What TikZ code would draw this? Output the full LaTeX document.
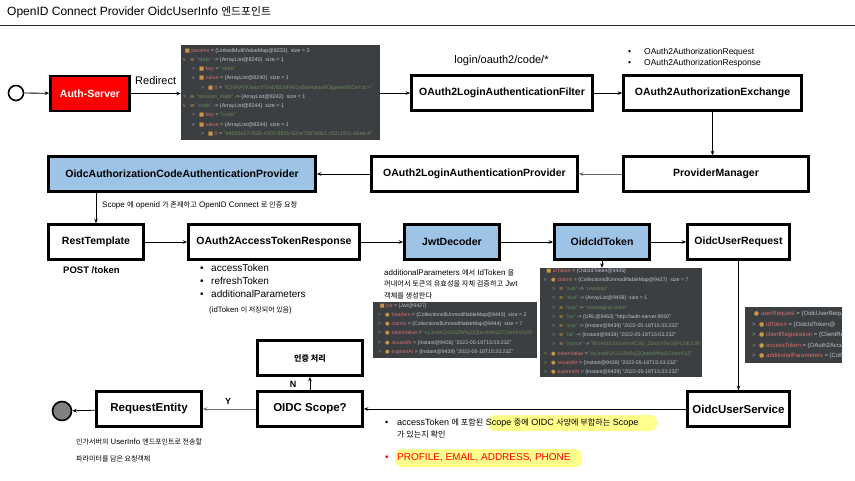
\documentclass[tikz,border=0pt]{standalone}
\usepackage{fontspec}
\setmainfont{Liberation Sans}
\newfontfamily\kr[Scale=0.9]{Noto Sans CJK KR}
\newfontfamily\dsym{DejaVu Sans}
\usetikzlibrary{arrows.meta, positioning, calc}
\definecolor{boxblue}{RGB}{157,195,230}
\definecolor{boxred}{RGB}{255,0,0}
\definecolor{endgray}{RGB}{128,128,128}
\definecolor{dbgbg}{RGB}{60,63,65}
\definecolor{dbgname}{RGB}{214,110,110}
\definecolor{dbgval}{RGB}{190,196,204}
\definecolor{dbgstr}{RGB}{106,135,89}
\definecolor{dbgicon}{RGB}{200,150,70}
\definecolor{dbgchev}{RGB}{150,150,150}
\definecolor{hlyellow}{RGB}{255,255,140}
\newcommand{\hg}[1]{{\kr #1}}
\newcommand{\dnm}[1]{{\color{dbgname}#1}}
\newcommand{\dstr}[1]{{\color{dbgstr}#1}}
\newcommand{\dicon}[1]{{\dsym\color{dbgicon}#1}}
\tikzset{
  block/.style={rectangle, minimum height=35pt, align=center, draw=black, fill=white, font=\bfseries\fontsize{10.5}{12}\selectfont, line width=2.6pt, inner sep=2pt},
  blockB/.style={block, fill=boxblue},
  blockR/.style={block, fill=boxred, text=white},
  blockL/.style={block, font=\bfseries\fontsize{11.5}{13}\selectfont},
  terminal/.style={circle, draw=black, line width=1.6pt, minimum size=15pt, inner sep=0pt},
  panel/.style={rectangle, fill=dbgbg, inner sep=0pt},
  dbgrow/.style={anchor=west, inner sep=0pt, text=dbgval, font=\fontsize{5.4}{6}\selectfont},
  note/.style={anchor=north west, inner sep=0pt, align=left},
  arrow/.style={-{Stealth[length=4.5pt, width=3.6pt]}, line width=0.8pt},
}

\begin{document}
\begin{tikzpicture}[x=1pt, y=-1pt]
\useasboundingbox (0,0) rectangle (855,480);
% title
\node (title) [anchor=west, inner sep=0pt, font=\fontsize{12}{14}\selectfont] at (7,12) {OpenID Connect Provider OidcUserInfo \hg{엔드포인트}};
\draw[line width=0.9pt, black!85] (0,25) -- (855,25);

% highlighter marks
\fill[hlyellow, rounded corners=7pt] (488,415) rectangle (657,431);
\fill[hlyellow, rounded corners=7pt] (395,449) rectangle (582,467);

% blocks
\node (start) [terminal] at (16,93) {};
\node (auth)  [blockR, minimum width=79pt] at (90,93.5) {Auth-Server};
\node (filt)  [block,  minimum width=181pt] at (502,93) {OAuth2LoginAuthenticationFilter};
\node (exch)  [block,  minimum width=178pt] at (712.5,93) {OAuth2AuthorizationExchange};
\node (pm)    [block,  minimum width=185pt] at (716,174) {ProviderManager};
\node (olap)  [block,  minimum width=206pt] at (474.5,174) {OAuth2LoginAuthenticationProvider};
\node (oacap) [blockB, minimum width=267pt] at (182,174) {OidcAuthorizationCodeAuthenticationProvider};
\node (rest)  [block,  minimum width=95pt] at (96,242) {RestTemplate};
\node (oatr)  [block,  minimum width=171pt] at (274,242) {OAuth2AccessTokenResponse};
\node (jwtd)  [blockB, minimum width=95pt] at (452,242) {JwtDecoder};
\node (oidt)  [blockB, minimum width=95pt] at (602,242) {OidcIdToken};
\node (oureq) [block,  minimum width=102pt] at (738.5,242) {OidcUserRequest};
\node (ous)   [blockB, blockL, minimum width=102pt] at (738.5,409) {OidcUserService};
\node (scope) [blockL, minimum width=105pt] at (310,409) {OIDC Scope?};
\node (auth2) [block,  minimum width=105pt, font=\bfseries\fontsize{9}{11}\selectfont] at (310,358) {\hg{인증 처리}};
\node (reqent) [blockL, minimum width=105pt] at (149,409) {RequestEntity};
\node (endc)  [terminal, fill=endgray, minimum size=19pt] at (62,411) {};

% debugger panels
\node (params) [panel, minimum width=199pt, minimum height=95pt] at (280.5,92.5) {};
\node (jwt)    [panel, minimum width=164pt, minimum height=56pt] at (455,330) {};
\node (idtok)  [panel, minimum width=162pt, minimum height=109pt] at (621,322.5) {};
\node (ureq)   [panel, minimum width=97pt, minimum height=56pt] at (793.5,335) {};

\begin{scope}
\clip (params.north west) rectangle (params.south east);
\foreach \ind/\ch/\ic/\nm/\rest [count=\i] in {
  -0.6/{}/■/{\dnm{params}}/{ = \{LinkedMultiValueMap@8231\}\ \ size = 3},
  0/v/≡/{\dstr{"state"}}/{ -> \{ArrayList@8240\}\ \ size = 1},
  1/>/■/{\dnm{key}}/{ = \dstr{"state"}},
  1/v/■/{\dnm{value}}/{ = \{ArrayList@8240\}\ \ size = 1},
  2/>/■/{\dnm{0}}/{ = \dstr{"tGHRAYKIwunYGnDl0U9HW1n6wmqNaROjgeew80CeYzc="}},
  0/>/≡/{\dstr{"session\_state"}}/{ -> \{ArrayList@8242\}\ \ size = 1},
  0/v/≡/{\dstr{"code"}}/{ -> \{ArrayList@8244\}\ \ size = 1},
  1/>/■/{\dnm{key}}/{ = \dstr{"code"}},
  1/v/■/{\dnm{value}}/{ = \{ArrayList@8244\}\ \ size = 1},
  2/>/■/{\dnm{0}}/{ = \dstr{"e4665a17-f526-4303-882b-92ce7287b0b1.c53c197c-b6ae-4"}}}
  \node (pr\i) [dbgrow] at ({183+\ind*9},{51+(\i-1)*9.2})
    {\makebox[7pt][l]{\color{dbgchev}\ch}\makebox[6.5pt][l]{\dicon{\ic}}\nm\rest};
\end{scope}

\begin{scope}
\clip (jwt.north west) rectangle (jwt.south east);
\foreach \ind/\ch/\ic/\nm/\rest [count=\i] in {
  -0.6/{}/■/{\dnm{jwt}}/{ = \{Jwt@9427\}},
  0/>/●/{\dnm{headers}}/{ = \{Collections\$UnmodifiableMap@9443\}\ \ size = 2},
  0/>/●/{\dnm{claims}}/{ = \{Collections\$UnmodifiableMap@9444\}\ \ size = 7},
  0/>/●/{\dnm{tokenValue}}/{ = \dstr{"eyJraWQiOiJiZWNjZjQtandWhpZCIsImFsZyI6"}},
  0/>/●/{\dnm{issuedAt}}/{ = \{Instant@9438\} "2022-05-18T15:03:23Z"},
  0/>/●/{\dnm{expiresAt}}/{ = \{Instant@9439\} "2022-05-18T15:33:23Z"}}
  \node (jr\i) [dbgrow, font=\fontsize{5.2}{6}\selectfont] at ({378+\ind*9},{306+(\i-1)*9.2})
    {\makebox[7pt][l]{\color{dbgchev}\ch}\makebox[6.5pt][l]{\dicon{\ic}}\nm\rest};
\end{scope}

\begin{scope}
\clip (idtok.north west) rectangle (idtok.south east);
\foreach \ind/\ch/\ic/\nm/\rest [count=\i] in {
  -0.6/{}/■/{\dnm{idToken}}/{ = \{OidcIdToken@9435\}},
  0/v/●/{\dnm{claims}}/{ = \{Collections\$UnmodifiableMap@9437\}\ \ size = 7},
  1/>/≡/{\dstr{"sub"}}/{ -> \dstr{"onjsdnjs"}},
  1/>/≡/{\dstr{"aud"}}/{ -> \{ArrayList@9459\}\ \ size = 1},
  1/>/≡/{\dstr{"azp"}}/{ -> \dstr{"messaging-client"}},
  1/>/≡/{\dstr{"iss"}}/{ -> \{URL@9463\} "http://auth-server:9000"},
  1/>/≡/{\dstr{"exp"}}/{ -> \{Instant@9439\} "2022-05-18T15:33:23Z"},
  1/>/≡/{\dstr{"iat"}}/{ -> \{Instant@9438\} "2022-05-18T15:03:23Z"},
  1/>/≡/{\dstr{"nonce"}}/{ -> \dstr{"BGAEt510Gnhro4CXp\_Ztsc0X0yGBFL0lICUR"}},
  0/>/●/{\dnm{tokenValue}}/{ = \dstr{"eyJraWQiOiJiZWNjZjQtandWhpZCIsImFsZ"}},
  0/>/●/{\dnm{issuedAt}}/{ = \{Instant@9438\} "2022-05-18T15:03:23Z"},
  0/>/●/{\dnm{expiresAt}}/{ = \{Instant@9439\} "2022-05-18T15:33:23Z"}}
  \node (ir\i) [dbgrow, font=\fontsize{5.2}{6}\selectfont] at ({544+\ind*8},{271+(\i-1)*9.2})
    {\makebox[7pt][l]{\color{dbgchev}\ch}\makebox[6.5pt][l]{\dicon{\ic}}\nm\rest};
\end{scope}

\begin{scope}
\clip (ureq.north west) rectangle (ureq.south east);
\foreach \ind/\ch/\ic/\nm/\rest [count=\i] in {
  -0.6/{}/●/{\dnm{userRequest}}/{ = \{OidcUserRequest},
  0/>/●/{\dnm{idToken}}/{ = \{OidcIdToken@},
  0/>/●/{\dnm{clientRegistration}}/{ = \{ClientRegistration},
  0/>/●/{\dnm{accessToken}}/{ = \{OAuth2AccessToken},
  0/>/●/{\dnm{additionalParameters}}/{ = \{Collections}}
  \node (ur\i) [dbgrow, font=\fontsize{6}{7}\selectfont] at ({752+\ind*9},{314+(\i-1)*10.5})
    {\makebox[7pt][l]{\color{dbgchev}\ch}\makebox[7pt][l]{\dicon{\ic}}\nm\rest};
\end{scope}

% labels and notes
\node (lblredir) [anchor=west, inner sep=0pt, font=\fontsize{11}{13}\selectfont] at (135,81) {Redirect};
\node (lblcode) [inner sep=0pt, font=\fontsize{11}{13}\selectfont] at (501.5,61) {login/oauth2/code/*};
\node (lblexch) [note, font=\fontsize{8.5}{11}\selectfont] at (628,48) {\makebox[16pt][l]{•}OAuth2AuthorizationRequest\\\makebox[16pt][l]{•}OAuth2AuthorizationResponse};
\node (lbloidc) [anchor=west, inner sep=0pt, font=\fontsize{8}{10}\selectfont] at (102,205) {Scope \hg{에} openid \hg{가 존재하고} OpenID Connect \hg{로 인증 요청}};
\node (lblpost) [anchor=west, inner sep=0pt, font=\bfseries\fontsize{9.5}{11}\selectfont] at (63,270) {POST /token};
\node (lbltok) [note, font=\fontsize{10}{13}\selectfont] at (200,264.5) {\makebox[11pt][l]{•}accessToken\\\makebox[11pt][l]{•}refreshToken\\\makebox[11pt][l]{•}additionalParameters};
\node (lblidt) [anchor=west, inner sep=0pt, font=\fontsize{7.8}{10}\selectfont] at (209,310) {(idToken \hg{이 저장되어 있음})};
\node (lbljwt) [note, font=\fontsize{8}{11.7}\selectfont] at (384,269) {additionalParameters \hg{에서} IdToken \hg{을}\\\hg{꺼내어서 토큰의 유효성을 자체 검증하고} Jwt\\\hg{객체를 생성한다}};
\node (lblreq) [note, font=\fontsize{7.8}{17}\selectfont] at (76,438) {\hg{인가서버의} UserInfo \hg{엔드포인트로 전송할}\\\hg{파라미터를 담은 요청객체}};
\node (lblchk) [note, font=\fontsize{9}{12}\selectfont] at (385,419) {\makebox[12pt][l]{•}accessToken \hg{에 포함된} Scope \hg{중에} OIDC \hg{사양에 부합하는} Scope\\\hspace{12pt}\hg{가 있는지 확인}};
\node (lblscp) [anchor=west, inner sep=0pt, font=\fontsize{10}{12}\selectfont, text=red] at (385,458) {\makebox[12pt][l]{•}PROFILE, EMAIL, ADDRESS, PHONE};
\node (lbln) [inner sep=0pt, font=\bfseries\fontsize{9}{11}\selectfont] at (293,384) {N};
\node (lbly) [inner sep=0pt, font=\bfseries\fontsize{9}{11}\selectfont] at (228,401) {Y};

% connectors
\draw[arrow] (start) -- (auth);
\draw[arrow] (auth.east) -- (auth.east -| params.west);
\draw[arrow] (params.east |- filt.west) -- (filt.west);
\draw[arrow] (filt) -- (exch);
\draw[arrow] (exch.south) -- (exch.south |- pm.north);
\draw[arrow, black!60] (pm) -- (olap);
\draw[arrow] (olap) -- (oacap);
\draw[arrow] (rest.north |- oacap.south) -- (rest.north);
\draw[arrow] (rest) -- (oatr);
\draw[arrow] (oatr) -- (jwtd);
\draw[arrow] (jwtd) -- (oidt);
\draw[arrow] (oidt) -- (oureq);
\draw[arrow] (oidt.south) -- (oidt.south |- idtok.north);
\draw[arrow] (oureq) -- (ous);
\draw[arrow] (ous) -- (scope);
\draw[arrow] (scope) -- (auth2);
\draw[arrow, black!55] (scope) -- (reqent);
\draw[arrow] (reqent) -- (endc);
\end{tikzpicture}
\end{document}
